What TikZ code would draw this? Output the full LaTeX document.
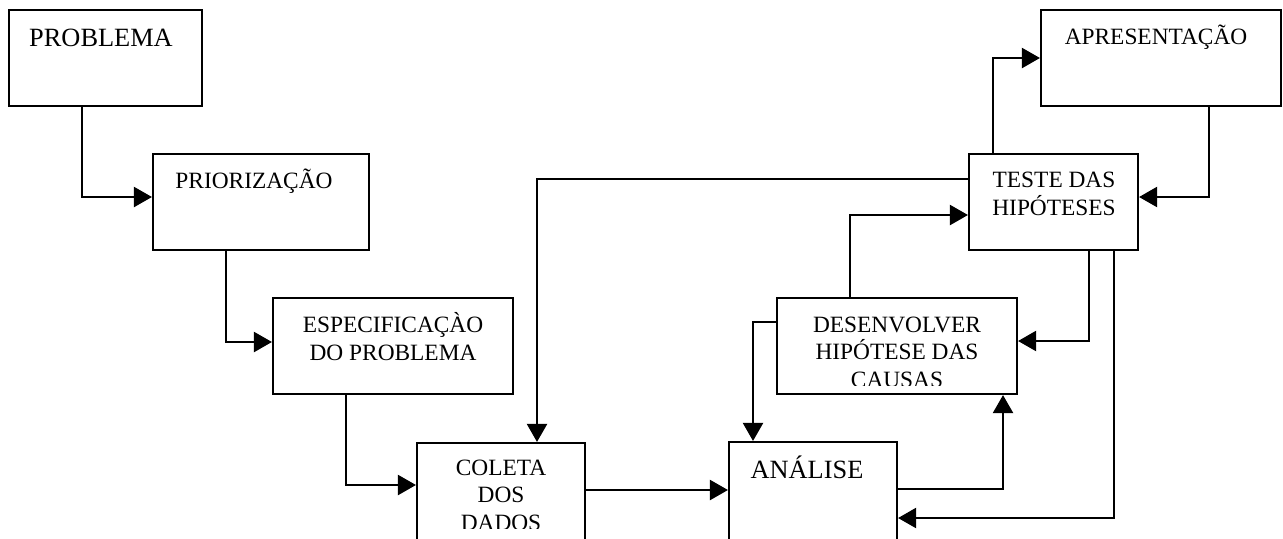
\documentclass[tikz,border=0pt]{standalone}
\usepackage{fontspec}
\setmainfont{Liberation Serif}
\usetikzlibrary{arrows.meta, calc, fit}
\tikzset{box/.style={draw, line width=1.2pt, inner sep=0pt}}
\tikzset{flow/.style={-{Triangle[length=3.6mm, width=4mm]}, line width=1.2pt}}
\tikzset{txt/.style={anchor=base, align=center, inner sep=0pt, font=\fontsize{13.3}{15.6}\selectfont}}
\tikzset{bigtxt/.style={txt, font=\fontsize{15}{18}\selectfont}}

\begin{document}
\begin{tikzpicture}[x=0.02cm, y=-0.02cm]
	\useasboundingbox (0,0) rectangle (1283,538);
	% caixas
	\node[box, fit={(9,10) (202,106)}] (prob) {};
	\node[box, fit={(153,154) (369,250)}] (prio) {};
	\node[box, fit={(273,298) (513,394)}] (esp) {};
	\node[box, fit={(417,443) (585,540)}] (col) {};
	\node[box, fit={(729,442) (897,540)}] (ana) {};
	\node[box, fit={(777,298) (1017,394)}] (des) {};
	\node[box, fit={(969,154) (1138,250)}] (tes) {};
	\node[box, fit={(1041,10) (1281,106)}] (apr) {};
	
	% textos (base = ultima linha)
	\node[bigtxt] (probtxt) at (101,46) {PROBLEMA};
	\node[txt] (priotxt) at (254,188) {PRIORIZAÇÃO};
	\node[txt] (esptxt) at (393,360) {ESPECIFICAÇÀO\\DO PROBLEMA};
	\begin{scope}
		\clip (col.north west) rectangle ($(col.south east)+(0,-13)$);
		\node[txt] (coltxt) at (501,530) {COLETA\\DOS\\DADOS};
	\end{scope}
	\node[bigtxt] (anatxt) at (807,478) {ANÁLISE};
	\begin{scope}
		\clip (des.north west) rectangle ($(des.south east)+(0,-10)$);
		\node[txt] (destxt) at (897,387) {DESENVOLVER\\HIPÓTESE DAS\\CAUSAS};
	\end{scope}
	\node[txt] (testxt) at (1054,215) {TESTE DAS\\HIPÓTESES};
	\node[txt] (aprtxt) at (1156,44) {APRESENTAÇÃO};
	
	% ligacoes
	\draw[flow] (prob.south -| 82,0) |- (prio.west |- 0,197);
	\draw[flow] (prio.south -| 226,0) |- (esp.west |- 0,342);
	\draw[flow] (esp.south -| 346,0) |- (col.west |- 0,485);
	\draw[flow] (col.east |- 0,490) -- (ana.west |- 0,490);
	\draw[flow] (ana.east |- 0,489) -| (des.south -| 1003,0);
	\draw[flow] (des.west |- 0,322) -| (ana.north -| 753,0);
	\draw[flow] (des.north -| 850,0) |- (tes.west |- 0,215);
	\draw[flow] (tes.west |- 0,179) -| (col.north -| 537,0);
	\draw[flow] (tes.north -| 993,0) |- (apr.west |- 0,58);
	\draw[flow] (apr.south -| 1209,0) |- (tes.east |- 0,197);
	\draw[flow] (tes.south -| 1089,0) |- (des.east |- 0,341);
	\draw[flow] (tes.south -| 1114,0) |- (ana.east |- 0,518);
\end{tikzpicture}
\end{document}
